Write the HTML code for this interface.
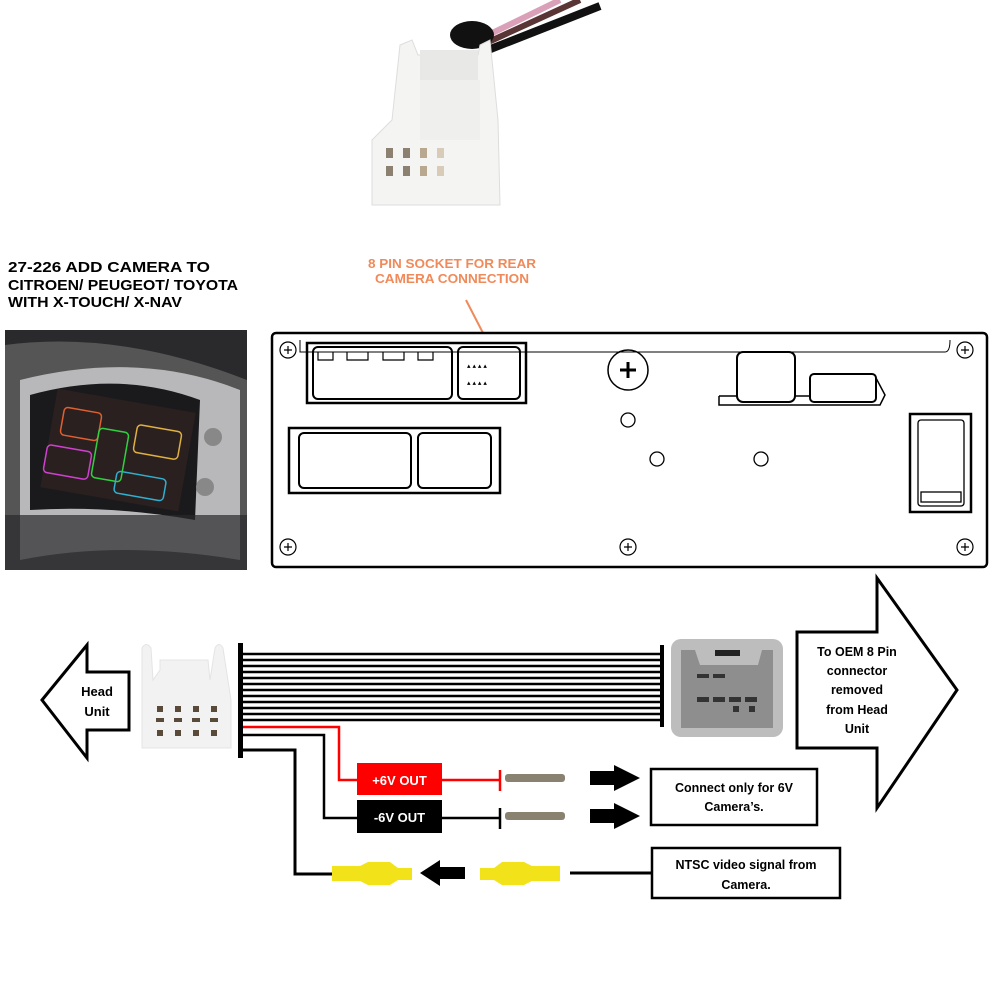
<!DOCTYPE html>
<html><head><meta charset="utf-8"><style>
html,body{margin:0;padding:0;background:#fff;width:1000px;height:1000px;overflow:hidden}
svg text{font-family:"Liberation Sans",sans-serif}
</style></head><body>
<svg width="1000" height="1000" viewBox="0 0 1000 1000" xmlns="http://www.w3.org/2000/svg">
<!-- top connector photo -->
<path d="M478 40 L560 0" stroke="#d9a0b8" stroke-width="6"/>
<path d="M484 44 L580 0" stroke="#5a3535" stroke-width="6"/>
<path d="M488 50 L600 6" stroke="#111" stroke-width="8"/>
<ellipse cx="472" cy="35" rx="22" ry="14" fill="#111"/>
<path d="M372 205 L372 140 L392 120 L400 45 L412 40 L418 55 L478 55 L480 45 L490 40 L498 120 L500 205 Z" fill="#f4f4f2" stroke="#ddd"/>
<rect x="420" y="50" width="58" height="30" fill="#e8e8e6"/>
<rect x="420" y="80" width="60" height="60" fill="#efefed"/>
<g fill="#8c8070">
<rect x="386" y="148" width="7" height="10"/><rect x="403" y="148" width="7" height="10"/><rect x="420" y="148" width="7" height="10" fill="#b8a890"/><rect x="437" y="148" width="7" height="10" fill="#d8ccb8"/>
<rect x="386" y="166" width="7" height="10"/><rect x="403" y="166" width="7" height="10"/><rect x="420" y="166" width="7" height="10" fill="#b8a890"/><rect x="437" y="166" width="7" height="10" fill="#d8ccb8"/>
</g>
<!-- title -->
<g font-size="15" font-weight="bold" fill="#000">
<text x="8" y="272" textLength="202" lengthAdjust="spacingAndGlyphs">27-226 ADD CAMERA TO</text>
<text x="8" y="290" textLength="230" lengthAdjust="spacingAndGlyphs">CITROEN/ PEUGEOT/ TOYOTA</text>
<text x="8" y="307" textLength="174" lengthAdjust="spacingAndGlyphs">WITH X-TOUCH/ X-NAV</text>
</g>
<g font-size="13" font-weight="bold" fill="#f08a5a">
<text x="368" y="268" textLength="168" lengthAdjust="spacingAndGlyphs">8 PIN SOCKET FOR REAR</text>
<text x="375" y="283" textLength="154" lengthAdjust="spacingAndGlyphs">CAMERA CONNECTION</text>
</g>
<line x1="466" y1="300" x2="483" y2="333" stroke="#f08a5a" stroke-width="2"/>
<!-- car photo -->
<rect x="5" y="330" width="242" height="240" fill="#2a2a2c"/>
<path d="M5 345 Q120 330 247 380 L247 570 L5 570Z" fill="#555"/>
<path d="M20 380 Q140 350 240 390 L240 560 Q120 540 20 560Z" fill="#b8b8ba"/>
<path d="M30 395 Q120 370 200 400 L195 520 Q110 505 30 510Z" fill="#1a1a1c"/>
<rect x="48" y="400" width="140" height="100" fill="#2a2020" transform="rotate(10 118 450)"/>
<rect x="62" y="410" width="38" height="28" rx="4" fill="none" stroke="#e06030" stroke-width="1.5" transform="rotate(10 81 424)"/>
<rect x="95" y="430" width="30" height="50" rx="4" fill="none" stroke="#30d040" stroke-width="1.5" transform="rotate(10 110 455)"/>
<rect x="135" y="428" width="45" height="28" rx="4" fill="none" stroke="#e0b040" stroke-width="1.5" transform="rotate(10 157 442)"/>
<rect x="45" y="448" width="45" height="28" rx="4" fill="none" stroke="#d040d0" stroke-width="1.5" transform="rotate(10 67 462)"/>
<rect x="115" y="475" width="50" height="22" rx="4" fill="none" stroke="#30b0d0" stroke-width="1.5" transform="rotate(10 140 486)"/>
<circle cx="213" cy="437" r="9" fill="#888"/><circle cx="205" cy="487" r="9" fill="#888"/>
<rect x="5" y="515" width="242" height="55" fill="#2a2a2c" opacity="0.7"/>
<!-- head unit panel -->
<g fill="none" stroke="#000">
<rect x="272" y="333" width="715" height="234" rx="4" stroke-width="2.5"/>
<path d="M300 340 L300 352 L945 352 Q950 352 950 340" stroke-width="1"/>
<rect x="307" y="343" width="219" height="60" stroke-width="2.5"/>
<rect x="313" y="347" width="139" height="52" rx="5" stroke-width="2"/>
<path d="M318 352 V360 H333 V352 M347 352 V360 H368 V352 M383 352 V360 H404 V352 M418 352 V360 H433 V352" stroke-width="1.2"/>
<rect x="458" y="347" width="62" height="52" rx="5" stroke-width="2"/>
<rect x="289" y="428" width="211" height="65" stroke-width="2.5"/>
<rect x="299" y="433" width="112" height="55" rx="5" stroke-width="2"/>
<rect x="418" y="433" width="73" height="55" rx="5" stroke-width="2"/>
<circle cx="628" cy="370" r="20" stroke-width="1.5"/>
<circle cx="628" cy="420" r="7" stroke-width="1.3"/>
<circle cx="657" cy="459" r="7" stroke-width="1.3"/>
<circle cx="761" cy="459" r="7" stroke-width="1.3"/>
<rect x="737" y="352" width="58" height="50" rx="6" stroke-width="2"/>
<rect x="810" y="374" width="66" height="28" rx="4" stroke-width="2"/>
<path d="M719 396 H737 M795 396 H810 M719 396 V405 H880 L885 395 L876 378" stroke-width="1.5"/>
<rect x="910" y="414" width="61" height="98" stroke-width="2.5"/>
<rect x="918" y="420" width="46" height="86" rx="3" stroke-width="1.3"/>
<rect x="921" y="492" width="40" height="10" stroke-width="1.3"/>
</g>
<g fill="#000" font-size="7"><text x="467" y="368">▴ ▴ ▴ ▴</text><text x="467" y="385">▴ ▴ ▴ ▴</text></g>
<g fill="none" stroke="#000" stroke-width="1.2">
<circle cx="288" cy="350" r="8"/><circle cx="965" cy="350" r="8"/><circle cx="288" cy="547" r="8"/><circle cx="628" cy="547" r="8"/><circle cx="965" cy="547" r="8"/>
<path d="M284 350h8M288 346v8M961 350h8M965 346v8M284 547h8M288 543v8M624 547h8M628 543v8M961 547h8M965 543v8"/>
<path d="M620 370h16M628 362v16" stroke-width="3"/>
</g>
<!-- bottom -->
<path d="M42 700 L87 645 L87 672 L129 672 L129 730 L87 730 L87 758 Z" fill="#fff" stroke="#000" stroke-width="3"/>
<text font-size="13" font-weight="bold" fill="#000" text-anchor="middle"><tspan x="97" y="696">Head</tspan><tspan x="97" y="716">Unit</tspan></text>
<path d="M142 748 L142 648 Q146 641 151 648 L153 680 L160 670 L160 660 L208 660 L210 680 L215 648 Q219 641 223 648 L231 700 L231 748 Z" fill="#f2f2f2" stroke="#e4e4e4"/>
<g fill="#5a4a3a"><rect x="157" y="706" width="6" height="6"/><rect x="175" y="706" width="6" height="6"/><rect x="193" y="706" width="6" height="6"/><rect x="211" y="706" width="6" height="6"/><rect x="156" y="718" width="8" height="4"/><rect x="174" y="718" width="8" height="4"/><rect x="192" y="718" width="8" height="4"/><rect x="210" y="718" width="8" height="4"/><rect x="157" y="730" width="6" height="6"/><rect x="175" y="730" width="6" height="6"/><rect x="193" y="730" width="6" height="6"/><rect x="211" y="730" width="6" height="6"/></g>
<rect x="238" y="643" width="5" height="115" fill="#000"/>
<g stroke="#000" stroke-width="2.5">
<line x1="243" y1="654" x2="662" y2="654"/><line x1="243" y1="660" x2="662" y2="660"/><line x1="243" y1="666" x2="662" y2="666"/><line x1="243" y1="672" x2="662" y2="672"/><line x1="243" y1="678" x2="662" y2="678"/><line x1="243" y1="684" x2="662" y2="684"/><line x1="243" y1="690" x2="662" y2="690"/><line x1="243" y1="696" x2="662" y2="696"/><line x1="243" y1="702" x2="662" y2="702"/><line x1="243" y1="708" x2="662" y2="708"/><line x1="243" y1="714" x2="662" y2="714"/><line x1="243" y1="720" x2="662" y2="720"/>
</g>
<rect x="660" y="645" width="4" height="82" fill="#000"/>
<rect x="671" y="639" width="112" height="98" rx="10" fill="#bdbdbd"/>
<path d="M681 650 H695 L700 665 H758 L762 650 H773 V728 H681 Z" fill="#8e8e8e"/>
<rect x="715" y="650" width="25" height="6" fill="#222"/>
<g fill="#333"><rect x="697" y="674" width="12" height="4"/><rect x="713" y="674" width="12" height="4"/><rect x="697" y="697" width="12" height="5"/><rect x="713" y="697" width="12" height="5"/><rect x="729" y="697" width="12" height="5"/><rect x="745" y="697" width="12" height="5"/><rect x="749" y="706" width="6" height="6"/><rect x="733" y="706" width="6" height="6"/></g>
<path d="M797 632 H877 V578 L957 690 L877 808 V748 H797 Z" fill="#fff" stroke="#000" stroke-width="3"/>
<text font-size="12.5" font-weight="bold" fill="#000" text-anchor="middle"><tspan x="857" y="656">To OEM 8 Pin</tspan><tspan x="857" y="675">connector</tspan><tspan x="857" y="694">removed</tspan><tspan x="857" y="714">from Head</tspan><tspan x="857" y="733">Unit</tspan></text>
<g fill="none" stroke-width="2.5">
<path d="M243 727 H339 V780 H357 M442 780 H500" stroke="#f00"/>
<path d="M500 770 V791" stroke="#f00"/>
<path d="M243 735 H324 V818 H357 M442 818 H500 M500 808 V829" stroke="#000"/>
<path d="M243 750 H295 V874 H332 M570 873 H652" stroke="#000" stroke-width="3"/>
</g>
<rect x="357" y="763" width="85" height="32" fill="#f00"/>
<text x="399.5" y="785" font-size="13" font-weight="bold" fill="#fff" text-anchor="middle">+6V OUT</text>
<rect x="357" y="800" width="85" height="33" fill="#000"/>
<text x="399.5" y="822" font-size="13" font-weight="bold" fill="#fff" text-anchor="middle">-6V OUT</text>
<g fill="#8a8270"><rect x="505" y="774" width="60" height="8" rx="3"/><rect x="505" y="812" width="60" height="8" rx="3"/></g>
<path d="M590 771 H614 V765 L640 778 L614 791 V785 H590 Z M590 809 H614 V803 L640 816 L614 829 V823 H590 Z" fill="#000"/>
<rect x="651" y="769" width="166" height="56" fill="#fff" stroke="#000" stroke-width="2.5"/>
<text font-size="12.5" font-weight="bold" fill="#000" text-anchor="middle"><tspan x="734" y="792">Connect only for 6V</tspan><tspan x="734" y="811">Camera’s.</tspan></text>
<path d="M332 866 H360 L368 862 H390 L398 868 H412 V880 H398 L390 885 H368 L360 881 H332 Z" fill="#f2e21a"/>
<path d="M560 866 H532 L524 862 H502 L494 868 H480 V880 H494 L502 885 H524 L532 881 H560 Z" fill="#f2e21a"/>
<path d="M465 867 H440 V860 L420 873 L440 886 V879 H465 Z" fill="#000"/>
<rect x="652" y="848" width="188" height="50" fill="#fff" stroke="#000" stroke-width="2.5"/>
<text font-size="12.5" font-weight="bold" fill="#000" text-anchor="middle"><tspan x="746" y="869">NTSC  video signal from</tspan><tspan x="746" y="889">Camera.</tspan></text>
</svg>
</body></html>
